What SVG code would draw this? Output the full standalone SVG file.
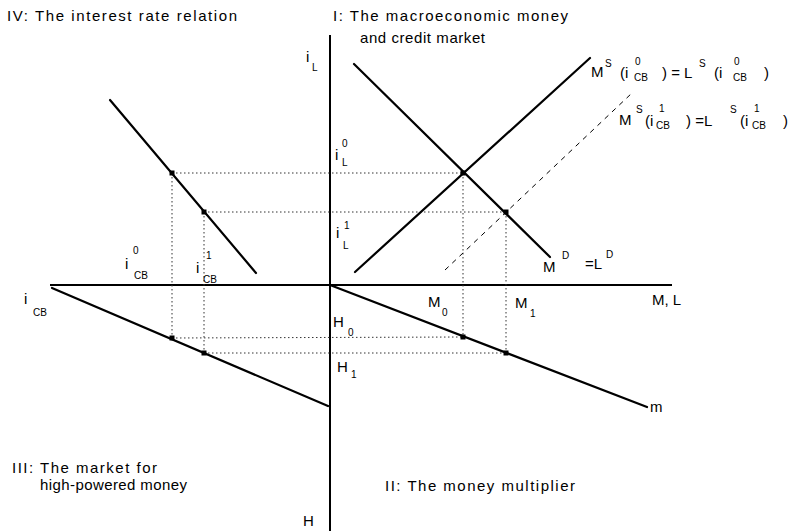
<svg xmlns="http://www.w3.org/2000/svg" width="800" height="531" viewBox="0 0 800 531">
<style>
.ax{stroke:#000;stroke-width:2;fill:none}
.cv{stroke:#000;stroke-width:2.2;fill:none;stroke-linecap:round}
.dt{stroke:#333;stroke-width:1;stroke-dasharray:1.5 2.5;fill:none}
.ds{stroke:#000;stroke-width:1;stroke-dasharray:5 5;fill:none}
text{font-family:"Liberation Sans",Arial,sans-serif;fill:#000}
.t{font-size:15px}
.s{font-size:10px}
.pt{fill:#000}
</style>
<rect width="800" height="531" fill="#fff"/>
<g id="axes">
<line class="ax" x1="330" y1="35" x2="330" y2="531"/>
<line class="ax" x1="50" y1="285" x2="672" y2="285"/>
</g>
<g id="connectors">
<line class="dt" x1="172" y1="173" x2="463" y2="173"/>
<line class="dt" x1="204" y1="212" x2="506" y2="212"/>
<line class="dt" x1="463" y1="173" x2="463" y2="337"/>
<line class="dt" x1="506" y1="212" x2="506" y2="353"/>
<line class="dt" x1="172" y1="173" x2="172" y2="338"/>
<line class="dt" x1="204" y1="212" x2="204" y2="353"/>
<line class="dt" x1="172" y1="338" x2="463" y2="337"/>
<line class="dt" x1="204" y1="353" x2="506" y2="353"/>
</g>
<g id="curve-MD"><line class="cv" x1="354" y1="64" x2="550" y2="257"/></g>
<g id="curve-MS0"><line class="cv" x1="355" y1="272" x2="590" y2="58"/></g>
<g id="curve-MS1"><line class="ds" x1="445" y1="270" x2="632" y2="93"/></g>
<g id="curve-IV"><line class="cv" x1="110" y1="100" x2="256" y2="273"/></g>
<g id="curve-III"><line class="cv" x1="52" y1="288" x2="328" y2="406"/></g>
<g id="curve-m"><line class="cv" x1="330" y1="285" x2="647" y2="407"/></g>
<g id="points">
<rect class="pt" x="169.5" y="170.5" width="5" height="5"/>
<rect class="pt" x="201.5" y="209.5" width="5" height="5"/>
<rect class="pt" x="460.5" y="170.5" width="5" height="5"/>
<rect class="pt" x="503.5" y="209.5" width="5" height="5"/>
<rect class="pt" x="169.5" y="335.5" width="5" height="5"/>
<rect class="pt" x="201.5" y="350.5" width="5" height="5"/>
<rect class="pt" x="460.5" y="334.5" width="5" height="5"/>
<rect class="pt" x="503.5" y="350.5" width="5" height="5"/>
</g>
<g id="titles">
<text class="t" x="7" y="21" textLength="230" lengthAdjust="spacing">IV: The interest rate relation</text>
<text class="t" x="333" y="21" textLength="235" lengthAdjust="spacing">I: The macroeconomic money</text>
<text class="t" x="360" y="43" textLength="125" lengthAdjust="spacing">and credit market</text>
<text class="t" x="12" y="473" textLength="145" lengthAdjust="spacing">III: The market for</text>
<text class="t" x="40" y="490" textLength="147" lengthAdjust="spacing">high-powered money</text>
<text class="t" x="385" y="491" textLength="190" lengthAdjust="spacing">II: The money multiplier</text>
</g>
<g id="labels">
<text class="t" x="306" y="62">i</text><text class="s" x="312" y="71">L</text>
<text class="t" x="335" y="160">i</text><text class="s" x="342" y="147">0</text><text class="s" x="342" y="166">L</text>
<text class="t" x="336" y="238">i</text><text class="s" x="344" y="229">1</text><text class="s" x="343" y="249">L</text>
<text class="t" x="125" y="269">i</text><text class="s" x="133" y="254">0</text><text class="s" x="134" y="279">CB</text>
<text class="t" x="196" y="273">i</text><text class="s" x="206" y="259">1</text><text class="s" x="203" y="283">CB</text>
<text class="t" x="24" y="304">i</text><text class="s" x="33" y="316">CB</text>
<text class="t" x="543" y="272">M</text><text class="s" x="562" y="259">D</text><text class="t" x="585" y="269">=L</text><text class="s" x="606" y="258">D</text>
<text class="t" x="652" y="305">M, L</text>
<text class="t" x="428" y="307">M</text><text class="s" x="442" y="316">0</text>
<text class="t" x="515" y="308">M</text><text class="s" x="530" y="317">1</text>
<text class="t" x="333" y="327">H</text><text class="s" x="348" y="336">0</text>
<text class="t" x="337" y="372">H</text><text class="s" x="351" y="378">1</text>
<text class="t" x="650" y="412">m</text>
<text class="t" x="303" y="526">H</text>
<text class="t" x="591" y="77">M</text><text class="s" x="605" y="67">S</text><text class="t" x="620" y="78">(i</text><text class="s" x="635" y="65">0</text><text class="s" x="634" y="81">CB</text><text class="t" x="662" y="78">) = L</text><text class="s" x="699" y="67">S</text><text class="t" x="714" y="78">(i</text><text class="s" x="734" y="65">0</text><text class="s" x="733" y="81">CB</text><text class="t" x="764" y="78">)</text>
<text class="t" x="619" y="125">M</text><text class="s" x="636" y="113">S</text><text class="t" x="645" y="126">(i</text><text class="s" x="659" y="112">1</text><text class="s" x="656" y="129">CB</text><text class="t" x="686" y="126">) =L</text><text class="s" x="730" y="113">S</text><text class="t" x="740" y="126">(i</text><text class="s" x="754" y="112">1</text><text class="s" x="752" y="129">CB</text><text class="t" x="783" y="126">)</text>
</g>
</svg>
